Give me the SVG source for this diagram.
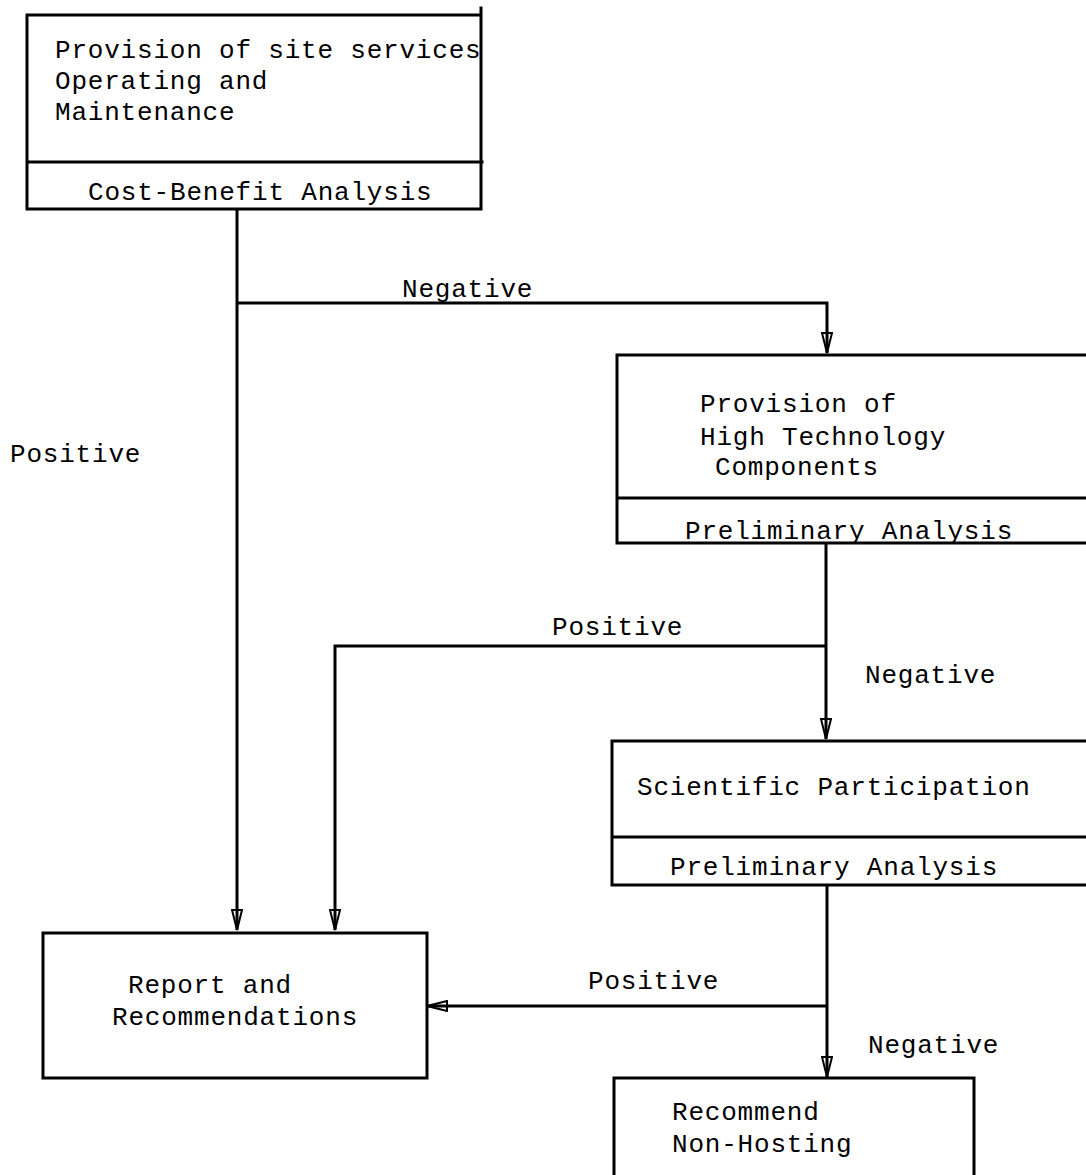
<svg xmlns="http://www.w3.org/2000/svg" width="1086" height="1175" viewBox="0 0 1086 1175">
  <defs>
    <style>
      .bx { stroke: #000; stroke-width: 3; fill: none; stroke-linecap: square; }
      .cn { stroke: #000; stroke-width: 3; fill: none; }
      .t { font-family: "Liberation Mono", "DejaVu Sans Mono", monospace; font-size: 26px; letter-spacing: 0.8px; fill: #000; }
    </style>
    <marker id="arr" viewBox="0 0 22 12" refX="21" refY="6" markerWidth="22" markerHeight="12" markerUnits="userSpaceOnUse" orient="auto">
      <path d="M1,1 L21,6 L1,11 Z" fill="none" stroke="#000" stroke-width="2"/>
    </marker>
  </defs>
  <rect width="1086" height="1175" fill="#fff"/>

  <g id="connectors">
    <path class="cn" d="M237,210 V930" marker-end="url(#arr)"/>
    <path class="cn" d="M237,303 H827 V353" marker-end="url(#arr)"/>
    <path class="cn" d="M826,543 V739" marker-end="url(#arr)"/>
    <path class="cn" d="M826,646 H335 V930" marker-end="url(#arr)"/>
    <path class="cn" d="M827,885 V1077" marker-end="url(#arr)"/>
    <path class="cn" d="M827,1006 H427" marker-end="url(#arr)"/>
    <text class="t" x="402" y="297">Negative</text>
    <text class="t" x="10" y="462">Positive</text>
    <text class="t" x="552" y="635">Positive</text>
    <text class="t" x="865" y="683">Negative</text>
    <text class="t" x="588" y="989">Positive</text>
    <text class="t" x="868" y="1053">Negative</text>
  </g>

  <g id="node-site-services">
    <path class="bx" d="M27,15 H481 M27,15 V209 H481 M481,8 V209 M27,162 H482"/>
    <text class="t" x="55" y="58">Provision of site services</text>
    <text class="t" x="55" y="89">Operating and</text>
    <text class="t" x="55" y="120">Maintenance</text>
    <text class="t" x="88" y="200">Cost-Benefit Analysis</text>
  </g>

  <g id="node-high-tech">
    <path class="bx" d="M1090,355 H617 V543 H1090 M617,498 H1090"/>
    <text class="t" x="700" y="412">Provision of</text>
    <text class="t" x="700" y="445">High Technology</text>
    <text class="t" x="715" y="475">Components</text>
    <text class="t" x="685" y="539">Preliminary Analysis</text>
  </g>

  <g id="node-scientific">
    <path class="bx" d="M1090,741 H612 V885 H1090 M612,837 H1090"/>
    <text class="t" x="637" y="795">Scientific Participation</text>
    <text class="t" x="670" y="875">Preliminary Analysis</text>
  </g>

  <g id="node-report">
    <rect class="bx" x="43" y="933" width="384" height="145"/>
    <text class="t" x="128" y="993">Report and</text>
    <text class="t" x="112" y="1025">Recommendations</text>
  </g>

  <g id="node-non-hosting">
    <path class="bx" d="M614,1180 V1078 H974 V1180"/>
    <text class="t" x="672" y="1120">Recommend</text>
    <text class="t" x="672" y="1152">Non-Hosting</text>
  </g>
</svg>
